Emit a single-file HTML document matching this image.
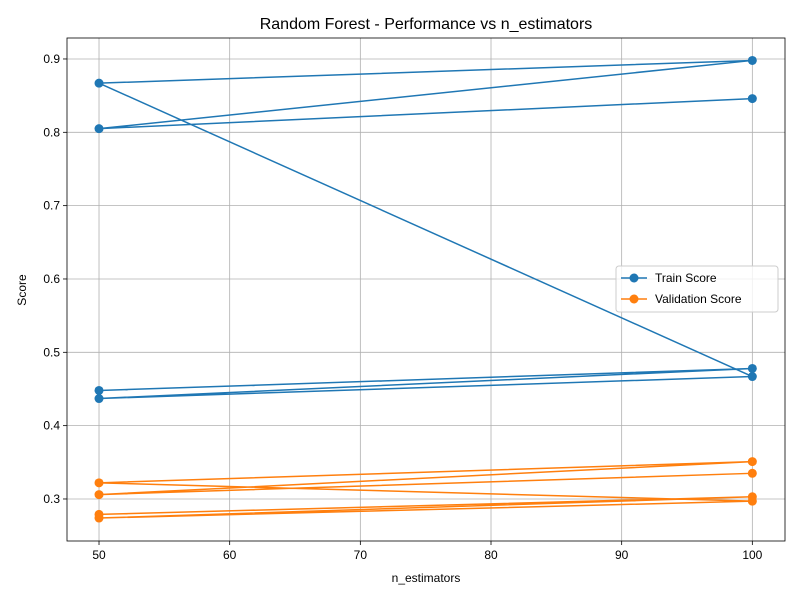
<!DOCTYPE html>
<html><head><meta charset="utf-8"><style>body{margin:0;background:#fff}svg{display:block;font-family:"Liberation Sans",sans-serif}</style></head>
<body>
<svg id="chart" width="800" height="600"></svg>
<script>
const xVals=[50,100,50,100,50,100,50,100];
const trainScores=[0.448,0.478,0.437,0.467,0.867,0.898,0.805,0.846];
const valScores=[0.279,0.303,0.274,0.297,0.322,0.351,0.306,0.335];
const xTicks=[50,60,70,80,90,100];
const yTicks=[0.3,0.4,0.5,0.6,0.7,0.8,0.9];
const L=67,R=785,T=38,B=541,xmin=47.55,xmax=102.5,ymin=0.2427,ymax=0.9286;
const sx=v=>L+(v-xmin)/(xmax-xmin)*(R-L);
const sy=v=>B-(v-ymin)/(ymax-ymin)*(B-T);
const svg=document.getElementById('chart');const NS='http://www.w3.org/2000/svg';
function mk(t,a,p){const e=document.createElementNS(NS,t);for(const k in a)e.setAttribute(k,a[k]);(p||svg).appendChild(e);return e;}
mk('rect',{x:0,y:0,width:800,height:600,fill:'#fff'});
xTicks.forEach(v=>{const x=sx(v);
const g=mk('line',{x1:x,x2:x,y1:T,y2:B,stroke:'#b0b0b0','stroke-width':0.8});

mk('line',{x1:x,x2:x,y1:B,y2:B+4,stroke:'#000','stroke-width':0.8});
const t=mk('text',{x:x,y:B+18,'text-anchor':'middle','font-size':12});t.textContent=v;
});
yTicks.forEach(v=>{const y=sy(v);
const g=mk('line',{x1:L,x2:R,y1:y,y2:y,stroke:'#b0b0b0','stroke-width':0.8});

mk('line',{x1:L-4,x2:L,y1:y,y2:y,stroke:'#000','stroke-width':0.8});
const t=mk('text',{x:L-7,y:y+4,'text-anchor':'end','font-size':12});t.textContent=v.toFixed(1);
});
function series(vals,color,name){
const pts=vals.map((v,i)=>sx(xVals[i])+','+sy(v)).join(' ');
const pl=mk('polyline',{points:pts,fill:'none',stroke:color,'stroke-width':1.5});

vals.forEach((v,i)=>{const c=mk('circle',{cx:sx(xVals[i]),cy:sy(v),r:4.5,fill:color});
});}
series(trainScores,'#1f77b4','train-score');
series(valScores,'#ff7f0e','validation-score');
mk('rect',{x:L,y:T,width:R-L,height:B-T,fill:'none',stroke:'#000','stroke-width':0.8});
let t=mk('text',{x:426,y:29,'text-anchor':'middle','font-size':16});t.textContent='Random Forest - Performance vs n_estimators';

t=mk('text',{x:426,y:582,'text-anchor':'middle','font-size':12});t.textContent='n_estimators';

t=mk('text',{x:26,y:290,'text-anchor':'middle','font-size':12,transform:'rotate(-90 26 290)'});t.textContent='Score';

const lg=mk('g',{});
mk('rect',{x:616,y:266,width:162,height:46,rx:3,fill:'#fff','fill-opacity':0.8,stroke:'#ccc'},lg);
[['Train Score','#1f77b4',278],['Validation Score','#ff7f0e',299]].forEach(([n,c,y])=>{
const e=mk('g',{},lg);
mk('line',{x1:621,x2:647,y1:y,y2:y,stroke:c,'stroke-width':1.5},e);
mk('circle',{cx:634,cy:y,r:4.5,fill:c},e);
const tt=mk('text',{x:655,y:y+4,'font-size':12},e);tt.textContent=n;});
</script>
</body></html>
